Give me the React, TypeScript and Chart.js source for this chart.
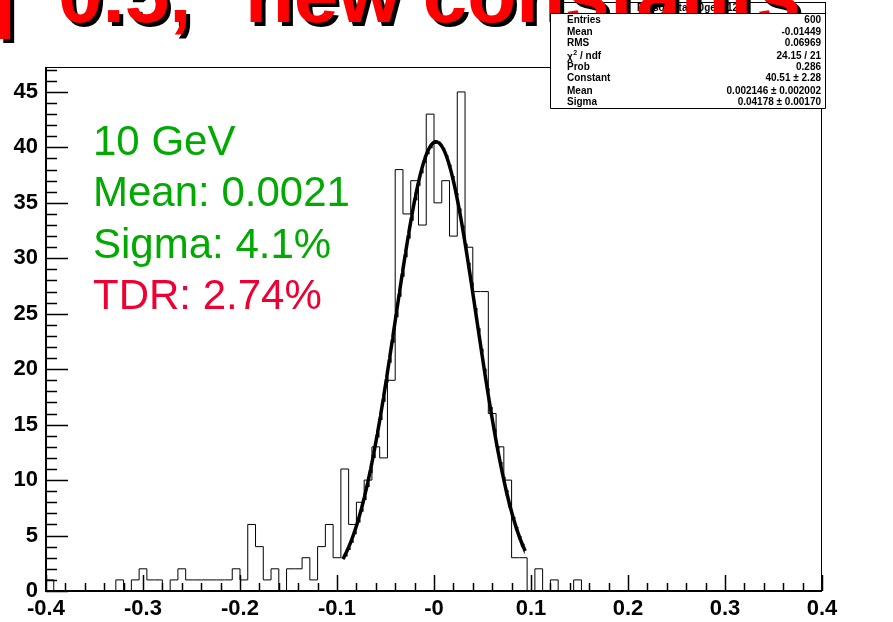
import React, { useEffect, useRef } from "react";
import { Chart, registerables } from "chart.js";

Chart.register(...registerables);

// ---- Data ----
const binLow = -0.4;
const binWidth = 0.008;
const counts = [
  1, 0, 0, 0, 0, 0, 0, 0, 0, 1,
  0, 1, 2, 1, 1, 0, 1, 2, 1, 1,
  1, 1, 1, 1, 2, 1, 6, 4, 1, 2,
  0, 2, 2, 3, 1, 4, 6, 3, 11, 6,
  8, 10, 13, 12, 19, 38, 34, 37, 33, 43,
  35, 37, 32, 45, 31, 27, 27, 16, 13, 10,
  3, 3, 0, 2, 0, 1, 0, 0, 1, 0,
  0, 0, 0, 0, 0, 0, 0, 0, 0, 0,
  0, 0, 0, 0, 0, 0, 0, 0, 0, 0,
  0, 0, 0, 0, 0, 0, 0, 0, 0, 0,
];
const xTickValues = [-0.4, -0.3, -0.2, -0.1, 0, 0.1, 0.2, 0.3, 0.4];
const xTickLabels = ["-0.4", "-0.3", "-0.2", "-0.1", "-0", "0.1", "0.2", "0.3", "0.4"];
const yTickValues = [0, 5, 10, 15, 20, 25, 30, 35, 40, 45];
const yTickLabels = ["0", "5", "10", "15", "20", "25", "30", "35", "40", "45"];

const fitConstant = 40.51;
const fitMean = 0.002146;
const fitSigma = 0.04178;
const fitRange = [-0.094, 0.094];

const statsTitle = "Eresol_eta_10gev_12";
const statsLabels = ["Entries", "Mean", "RMS", "χ2 / ndf", "Prob", "Constant", "Mean", "Sigma"];
const statsValues = [
  "600",
  "-0.01449",
  "0.06969",
  "24.15 / 21",
  "0.286",
  "40.51 ± 2.28",
  "0.002146 ± 0.002002",
  "0.04178 ± 0.00170",
];

const noteLines = ["10 GeV", "Mean: 0.0021", "Sigma: 4.1%", "TDR: 2.74%"];
const noteColors = ["#00aa00", "#00aa00", "#00aa00", "#ee0033"];

const titleParts = ["η", "0.5,", "new constants"];

// ---- Chart ----
const FONT = "'Liberation Sans', Arial, Helvetica, sans-serif";
const NARROW = "'Liberation Sans Narrow', 'Liberation Sans', Arial, sans-serif";

export default function App() {
  const ref = useRef<HTMLCanvasElement | null>(null);

  useEffect(() => {
    if (!ref.current) return;

    const histPoints: { x: number; y: number }[] = [{ x: binLow, y: 0 }];
    counts.forEach((c, i) => histPoints.push({ x: binLow + i * binWidth, y: c }));
    histPoints.push({ x: binLow + counts.length * binWidth, y: counts[counts.length - 1] });

    const fitPoints: { x: number; y: number }[] = [];
    const n = 240;
    for (let k = 0; k <= n; k++) {
      const x = fitRange[0] + (k * (fitRange[1] - fitRange[0])) / n;
      const z = (x - fitMean) / fitSigma;
      fitPoints.push({ x, y: fitConstant * Math.exp(-0.5 * z * z) });
    }

    const overlay = {
      id: "rootOverlay",
      afterDraw(chart: any) {
        const ctx = chart.ctx as CanvasRenderingContext2D;
        const { left, right, top, bottom } = chart.chartArea;
        const xs = chart.scales.x;
        const ys = chart.scales.y;
        ctx.save();
        ctx.strokeStyle = "#000";
        // frame
        ctx.lineWidth = 1;
        ctx.strokeRect(left + 0.5, top + 0.5, right - left - 1, bottom - top);
        // axes
        ctx.lineWidth = 2;
        ctx.beginPath();
        ctx.moveTo(left, top);
        ctx.lineTo(left, bottom);
        ctx.lineTo(right, bottom);
        ctx.stroke();
        // y ticks
        ctx.lineWidth = 1.5;
        ctx.beginPath();
        for (let v = 0; v <= 47; v += 1) {
          const py = Math.round(ys.getPixelForValue(v)) + 0.5;
          const len = v % 5 === 0 ? 22 : 11;
          ctx.moveTo(left, py);
          ctx.lineTo(left + len, py);
        }
        ctx.stroke();
        // x ticks
        ctx.beginPath();
        for (let k = 0; k <= 40; k++) {
          const v = -0.4 + k * 0.02;
          const px = Math.round(xs.getPixelForValue(v)) + 0.5;
          const len = k % 5 === 0 ? 16 : 8;
          ctx.moveTo(px, bottom);
          ctx.lineTo(px, bottom - len);
        }
        ctx.stroke();

        // annotations
        ctx.font = `42px ${FONT}`;
        ctx.textBaseline = "middle";
        ctx.textAlign = "left";
        noteLines.forEach((t, i) => {
          ctx.fillStyle = noteColors[i];
          ctx.fillText(t, 93, 143 + i * 51.5);
        });

        // stats box: header cell first
        const bx = 550, by = 2, bw = 275, bh = 106, hy = 13;
        ctx.fillStyle = "#fff";
        ctx.fillRect(bx, by, bw, hy - by);
        ctx.lineWidth = 1;
        ctx.strokeRect(bx + 0.5, by + 0.5, bw, hy - by);
        ctx.fillStyle = "#000";
        ctx.font = `bold 10px ${NARROW}`;
        ctx.textAlign = "center";
        ctx.fillText(statsTitle, bx + bw / 2, 8);

        // page title (cut off at top), red with black shadow
        ctx.font = `bold 80px ${FONT}`;
        ctx.textBaseline = "alphabetic";
        const pos: [string, number, CanvasTextAlign][] = [
          [titleParts[0], 15, "right"],
          [titleParts[1], 58, "left"],
          [titleParts[2], 245, "left"],
        ];
        for (const [t, x, al] of pos) {
          ctx.textAlign = al;
          ctx.fillStyle = "#000";
          ctx.fillText(t, x + 4, 26);
          ctx.fillStyle = "#ff0000";
          ctx.fillText(t, x, 22);
        }

        // stats box body over the title
        ctx.fillStyle = "#fff";
        ctx.fillRect(bx, hy + 1, bw + 1, by + bh - hy);
        ctx.strokeStyle = "#000";
        ctx.lineWidth = 1;
        ctx.beginPath();
        ctx.moveTo(bx + 0.5, hy);
        ctx.lineTo(bx + 0.5, by + bh + 0.5);
        ctx.lineTo(bx + bw + 0.5, by + bh + 0.5);
        ctx.lineTo(bx + bw + 0.5, hy);
        ctx.moveTo(bx, hy + 0.5);
        ctx.lineTo(bx + bw + 1, hy + 0.5);
        ctx.stroke();
        ctx.fillStyle = "#000";
        ctx.textBaseline = "middle";
        const rowsY = [20.5, 32.5, 43.5, 56, 67, 78.5, 91, 102.5];
        statsLabels.forEach((lab, i) => {
          ctx.textAlign = "left";
          ctx.font = `bold 10px ${FONT}`;
          if (lab.startsWith("χ2")) {
            ctx.fillText("χ", 567, rowsY[i] + 1);
            const w = ctx.measureText("χ").width;
            ctx.font = `bold 7px ${FONT}`;
            ctx.fillText("2", 567 + w + 0.5, rowsY[i] - 3);
            ctx.font = `bold 10px ${FONT}`;
            ctx.fillText(" / ndf", 567 + w + 4.5, rowsY[i]);
          } else {
            ctx.fillText(lab, 567, rowsY[i]);
          }
          ctx.textAlign = "right";
          ctx.font = `bold 10px ${NARROW}`;
          ctx.fillText(statsValues[i], 821, rowsY[i]);
        });
        ctx.restore();
      },
    };

    const chart = new Chart(ref.current, {
      type: "line",
      data: {
        datasets: [
          {
            data: histPoints,
            stepped: "before",
            borderColor: "#000",
            borderWidth: 1,
            pointRadius: 0,
            fill: false,
          },
          {
            data: fitPoints,
            borderColor: "#000",
            borderWidth: 3.5,
            pointRadius: 0,
            tension: 0,
            fill: false,
          },
        ],
      },
      options: {
        animation: false,
        responsive: false,
        maintainAspectRatio: false,
        layout: { padding: { top: 67, right: 71, left: 0, bottom: 0 } },
        plugins: { legend: { display: false }, tooltip: { enabled: false } },
        scales: {
          x: {
            type: "linear",
            min: -0.4,
            max: 0.4,
            afterFit: (s: any) => {
              s.height = 31;
            },
            afterBuildTicks: (s: any) => {
              s.ticks = xTickValues.map((v) => ({ value: v }));
            },
            ticks: {
              autoSkip: false,
              maxRotation: 0,
              padding: 5,
              color: "#000",
              font: { family: FONT, size: 22, weight: "bold" },
              callback: (_v: any, i: number) => xTickLabels[i],
            },
            grid: { display: false, drawTicks: false },
            border: { display: false },
          },
          y: {
            type: "linear",
            min: 0,
            max: 47.25,
            afterFit: (s: any) => {
              s.width = 46;
            },
            afterBuildTicks: (s: any) => {
              s.ticks = yTickValues.map((v) => ({ value: v }));
            },
            ticks: {
              autoSkip: false,
              padding: 8,
              color: "#000",
              font: { family: FONT, size: 22, weight: "bold" },
              callback: (_v: any, i: number) => yTickLabels[i],
            },
            grid: { display: false, drawTicks: false },
            border: { display: false },
          },
        },
      },
      plugins: [overlay],
    });
    return () => chart.destroy();
  }, []);

  return (
    <div style={{ position: "fixed", left: 0, top: 0, width: 893, height: 622, background: "#fff" }}>
      <canvas ref={ref} width={893} height={622} style={{ display: "block", width: 893, height: 622 }} />
    </div>
  );
}
